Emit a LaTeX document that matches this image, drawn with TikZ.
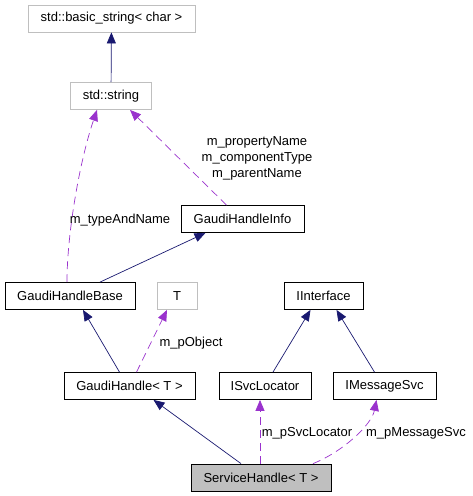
\documentclass[tikz,border=0pt]{standalone}
\usepackage{fontspec}
\setmainfont{Liberation Sans}
\usetikzlibrary{arrows.meta, calc}
\definecolor{navy}{HTML}{191970}
\definecolor{purp}{HTML}{9A32CD}
\definecolor{boxgray}{HTML}{BFBFBF}

\begin{document}
\begin{tikzpicture}[x=1pt, y=-1pt,
    every node/.style = {font=\fontsize{13}{16}\selectfont},
    cls/.style     = {rectangle, draw=black, line width=0.8pt, inner sep=0pt,
                      minimum height=27pt},
    ext/.style     = {cls, draw=boxgray},
    focus/.style   = {cls, fill=boxgray},
    inherit/.style = {-{Triangle[length=11pt, width=9pt]}, line width=0.7pt, draw=navy},
    usage/.style   = {-{Triangle[length=11pt, width=9pt]}, line width=0.7pt, draw=purp,
                      dash pattern=on 8pt off 5pt},
    lbl/.style     = {inner sep=1pt, align=center},
]
\useasboundingbox (0,0) rectangle (473,496);

% string classes (top)
\node[ext, minimum width=167pt] (bstr) at (111.5,18.5) {std::basic\_string< char >};
\node[ext, minimum width=81pt]  (str)  at (111,96)     {std::string};

% handle classes
\node[cls, minimum width=123pt] (ghinfo) at (242.5,219) {GaudiHandleInfo};
\node[cls, minimum width=130pt] (ghbase) at (70,296)    {GaudiHandleBase};
\node[ext, minimum width=40pt]  (tnode)  at (177,296)   {T};
\node[cls, minimum width=79pt]  (iif)    at (323.5,296) {IInterface};
\node[cls, minimum width=131pt] (gh)     at (129.5,386) {GaudiHandle< T >};
\node[cls, minimum width=92pt]  (isvc)   at (265,386)   {ISvcLocator};
\node[cls, minimum width=103pt] (imsg)   at (384.5,386) {IMessageSvc};
\node[focus, minimum width=140pt] (svch) at (261,477.5) {ServiceHandle< T >};

% inheritance
\draw[inherit] (str) -- (bstr);
\draw[inherit] ([xshift=30pt]ghbase.north) -- ([xshift=-37pt]ghinfo.south);
\draw[inherit] ([xshift=-10pt]gh.north) -- ([xshift=13pt]ghbase.south);
\draw[inherit] ([xshift=8pt]isvc.north) -- ([xshift=-13pt]iif.south);
\draw[inherit] ([xshift=-10pt]imsg.north) -- ([xshift=13pt]iif.south);
\draw[inherit] ([xshift=-20pt]svch.north) -- ([xshift=24pt]gh.south);

% usage
\draw[usage] ([xshift=-3pt]ghbase.north) .. controls +(0,-50) and +(-17,50) .. ([xshift=-14pt]str.south);
\draw[usage] ([xshift=-16pt]ghinfo.north) -- ([xshift=19pt]str.south);
\draw[usage] ([xshift=7pt]gh.north) -- ([xshift=-10pt]tnode.south);
\draw[usage] ([xshift=-1pt]svch.north) -- ([xshift=-5pt]isvc.south);
\draw[usage] ([xshift=52pt]svch.north) .. controls +(30,-12) and +(-5,25) .. ([xshift=-8pt]imsg.south);

% member labels
\node[lbl] (lbltype) at (120,220) {m\_typeAndName};
\node[lbl] (lblinfo) at (257,158) {m\_propertyName\\m\_componentType\\m\_parentName};
\node[lbl] (lblobj)  at (191,343) {m\_pObject};
\node[lbl] (lblsvc)  at (307,433) {m\_pSvcLocator};
\node[lbl] (lblmsg)  at (416,433) {m\_pMessageSvc};

\end{tikzpicture}
\end{document}
